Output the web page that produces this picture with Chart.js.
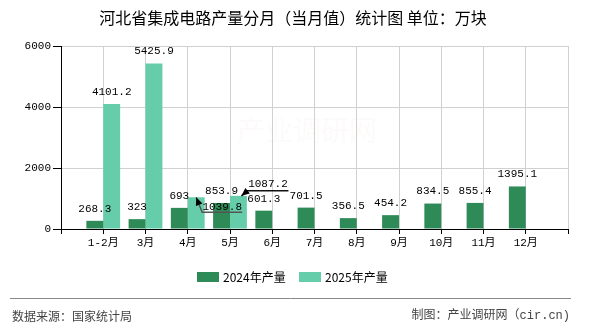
<!DOCTYPE html>
<html><head><meta charset="utf-8">
<script src="https://cdn.jsdelivr.net/npm/chart.js@4.4.1/dist/chart.umd.min.js"></script>
<style>html,body{margin:0;padding:0;background:#fff;}canvas{display:block;}</style>
</head><body>
<canvas id="c" width="590" height="330"></canvas>
<script>
// ---- data ----
const categories = ['1-2月','3月','4月','5月','6月','7月','8月','9月','10月','11月','12月'];
const values2024 = [268.3, 323, 693, 853.9, 601.3, 701.5, 356.5, 454.2, 834.5, 855.4, 1395.1];
const values2025 = [4101.2, 5425.9, 1039.8, 1087.2];
const seriesNames = ['2024年产量', '2025年产量'];
const yMin = 0, yMax = 6000, yStep = 2000;
const titleText = '河北省集成电路产量分月（当月值）统计图 单位：万块';
const sourceText = '数据来源：国家统计局';
const creditText = '制图：产业调研网（cir.cn)';
const watermarkText = '产业调研网';

// ---- styles ----
const colors = ['#2E8B57', '#66CDAA'];
const monoFont = '"Liberation Mono", "Noto Sans CJK SC", monospace';
const cjkFont = '"Noto Sans CJK SC", "Noto Sans", sans-serif';

// padded axis: one empty slot at each end
const axisLabels = [''].concat(categories, ['']);
function pad(arr){ const out = [null]; for (let i=0;i<categories.length;i++) out.push(i<arr.length?arr[i]:null); out.push(null); return out; }

// special label placements (offsets relative to bar top), keyed dataset-index
const leaderLabels = {
  '1-3': { text:[26, 9.5], path:[[0,0],[6,15],[46,15]], color:'#555' },
  '1-4': { text:[29.5, -12], path:[[3,0],[9,-5],[50,-5]], color:'#111' }
};

const bgPlugin = {
  id:'bg',
  beforeDraw(chart){
    const ctx = chart.ctx; ctx.save();
    ctx.fillStyle = '#fff'; ctx.fillRect(0,0,chart.width,chart.height);
    ctx.font = '28px ' + cjkFont; ctx.fillStyle = 'rgba(230,200,200,0.09)';
    ctx.textAlign='left'; ctx.textBaseline='middle';
    ctx.fillText(watermarkText, 237, 130);
    ctx.restore();
  }
};

const dataLabelPlugin = {
  id:'dataLabels',
  afterDatasetsDraw(chart){
    const ctx = chart.ctx; ctx.save();
    ctx.font = '11px ' + monoFont; ctx.textAlign='center'; ctx.textBaseline='middle';
    chart.data.datasets.forEach((ds, di) => {
      const meta = chart.getDatasetMeta(di);
      meta.data.forEach((bar, i) => {
        const v = ds.data[i];
        if (v == null) return;
        const lp = leaderLabels[di + '-' + i];
        const txt = String(v);
        ctx.fillStyle = '#000';
        if (lp) {
          const pts = lp.path.map(p => [bar.x + p[0], bar.y + p[1]]);
          ctx.strokeStyle = lp.color; ctx.lineWidth = 1.5;
          ctx.beginPath();
          pts.forEach((p,k) => k ? ctx.lineTo(p[0],p[1]) : ctx.moveTo(p[0],p[1]));
          ctx.stroke();
          const [tx,ty] = pts[0], [sx,sy] = pts[1];
          const ang = Math.atan2(ty-sy, tx-sx), L = 8, W = 3.5;
          ctx.fillStyle = '#000';
          ctx.beginPath();
          ctx.moveTo(tx,ty);
          ctx.lineTo(tx - L*Math.cos(ang) + W*Math.sin(ang), ty - L*Math.sin(ang) - W*Math.cos(ang));
          ctx.lineTo(tx - L*Math.cos(ang) - W*Math.sin(ang), ty - L*Math.sin(ang) + W*Math.cos(ang));
          ctx.closePath(); ctx.fill();
          ctx.fillText(txt, bar.x + lp.text[0], bar.y + lp.text[1]);
        } else {
          ctx.fillText(txt, bar.x, bar.y - 12);
        }
      });
    });
    ctx.restore();
  }
};

const decorPlugin = {
  id:'decor',
  afterDraw(chart){
    const ctx = chart.ctx; ctx.save();
    // title
    ctx.fillStyle = '#000'; ctx.font = '16px ' + cjkFont;
    ctx.textAlign = 'center'; ctx.textBaseline = 'middle';
    ctx.fillText(titleText, 293, 18);
    // legend
    ctx.font = '12px ' + cjkFont; ctx.textAlign='left';
    const legendX = [197, 299];
    chart.data.datasets.forEach((ds, di) => {
      ctx.fillStyle = ds.backgroundColor;
      ctx.fillRect(legendX[di], 272, 22, 10);
      ctx.fillStyle = '#000';
      ctx.fillText(ds.label, legendX[di] + 26, 277.5);
    });
    // separator
    ctx.strokeStyle = '#888'; ctx.lineWidth = 1;
    ctx.beginPath(); ctx.moveTo(10, 298.5); ctx.lineTo(571, 298.5); ctx.stroke();
    // footer
    ctx.fillStyle = '#444'; ctx.font = '12px ' + cjkFont;
    ctx.textAlign='left'; ctx.fillText(sourceText, 12, 316);
    ctx.font = '12px ' + monoFont;
    ctx.textAlign='right'; ctx.fillText(creditText, 570, 316);
    ctx.restore();
  }
};

new Chart(document.getElementById('c'), {
  type: 'bar',
  data: {
    labels: axisLabels,
    datasets: [
      { label: seriesNames[0], data: pad(values2024), backgroundColor: colors[0], borderWidth: 0 },
      { label: seriesNames[1], data: pad(values2025), backgroundColor: colors[1], borderWidth: 0 }
    ]
  },
  options: {
    responsive: false, devicePixelRatio: 1, animation: false,
    layout: { padding: { left: 0, right: 22, top: 46, bottom: 0 } },
    datasets: { bar: { categoryPercentage: 0.8, barPercentage: 1 } },
    plugins: { legend: { display: false }, title: { display: false }, tooltip: { enabled: false } },
    scales: {
      x: {
        type: 'category', offset: false,
        grid: { offset: false, color: '#d0d0d0', tickColor: '#000', tickLength: 5, lineWidth: 1 },
        border: { color: '#000', width: 1 },
        ticks: { autoSkip: false, maxRotation: 0, padding: 2, color: '#000', font: { family: monoFont, size: 11 } },
        afterFit(s){ s.height = 101; }
      },
      y: {
        min: yMin, max: yMax,
        grid: { color: '#d0d0d0', tickColor: '#000', tickLength: 8, lineWidth: 1 },
        border: { color: '#000', width: 1 },
        ticks: { stepSize: yStep, padding: 2, color: '#000', font: { family: monoFont, size: 11 },
                 callback: v => String(v) },
        afterFit(s){ s.width = 61; }
      }
    }
  },
  plugins: [bgPlugin, dataLabelPlugin, decorPlugin]
});
</script>
</body></html>
